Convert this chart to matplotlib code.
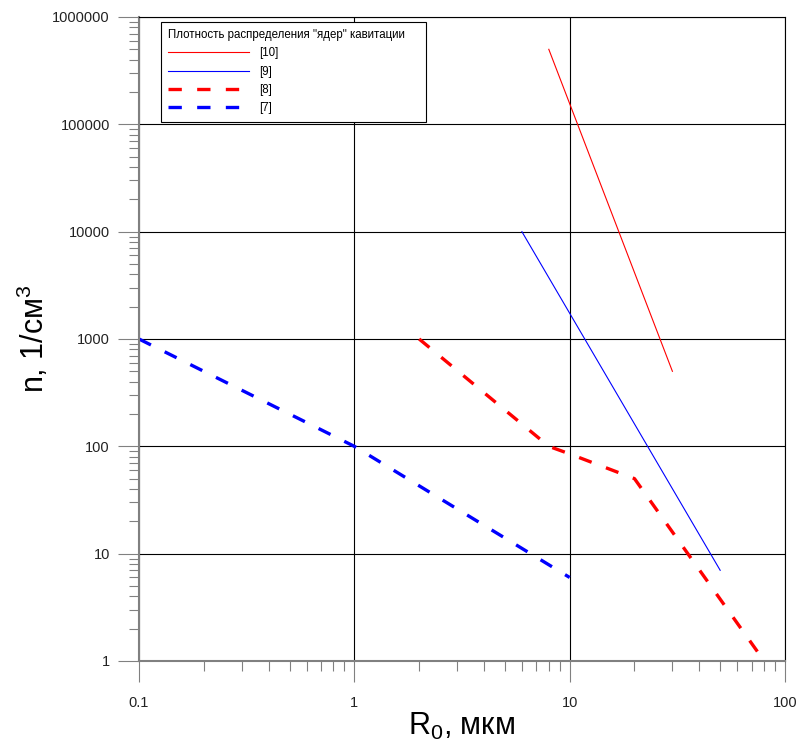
import matplotlib
matplotlib.use("Agg")
import matplotlib.pyplot as plt
from matplotlib.ticker import FixedLocator, FixedFormatter, LogLocator, NullFormatter

plt.rcParams['font.family'] = ['Liberation Sans', 'DejaVu Sans']
plt.rcParams['mathtext.fontset'] = 'custom'
plt.rcParams['mathtext.rm'] = 'Liberation Sans'
plt.rcParams['mathtext.it'] = 'Liberation Sans'

# data (log-log)
r10_x = [8, 30]
r10_y = [500000, 500]

r9_x = [6, 50]
r9_y = [10000, 7]

r8_x = [2, 8, 10, 20, 80]
r8_y = [1000, 100, 85, 50, 1]

r7_x = [0.1, 1, 10]
r7_y = [1000, 100, 6]

x_ticks = [0.1, 1, 10, 100]
x_labels = ["0.1", "1", "10", "100"]
y_ticks = [1, 10, 100, 1000, 10000, 100000, 1000000]
y_labels = ["1", "10", "100", "1000", "10000", "100000", "1000000"]

fig = plt.figure(figsize=(7.99, 7.44), dpi=100)
ax = fig.add_axes([139 / 799, 1 - 661 / 744, 646 / 799, 644 / 744])

ax.plot(r10_x, r10_y, color="red", lw=0.8, label="[10]")
ax.plot(r9_x, r9_y, color="blue", lw=0.8, label="[9]")
ax.plot(r8_x, r8_y, color="red", lw=2.4, linestyle=(0, (4.0, 4.6)), label="[8]")
ax.plot(r7_x, r7_y, color="blue", lw=2.4, linestyle=(0, (4.0, 4.6)), label="[7]")

ax.set_xscale("log")
ax.set_yscale("log")
ax.set_xlim(0.1, 100)
ax.set_ylim(1, 1000000)

ax.xaxis.set_major_locator(FixedLocator(x_ticks))
ax.xaxis.set_major_formatter(FixedFormatter(x_labels))
ax.yaxis.set_major_locator(FixedLocator(y_ticks))
ax.yaxis.set_major_formatter(FixedFormatter(y_labels))
ax.xaxis.set_minor_locator(LogLocator(base=10, subs=range(2, 10), numticks=20))
ax.yaxis.set_minor_locator(LogLocator(base=10, subs=range(2, 10), numticks=20))
ax.xaxis.set_minor_formatter(NullFormatter())
ax.yaxis.set_minor_formatter(NullFormatter())

ax.tick_params(which="major", direction="out", length=15, width=0.8, color="#808080",
               labelsize=10.5, labelcolor="#222222")
ax.tick_params(axis="x", which="major", pad=10)
ax.tick_params(axis="y", which="major", pad=6)
ax.tick_params(which="minor", direction="out", length=7.5, width=0.8, color="#808080")

ax.grid(True, which="major", color="black", lw=0.8)
for side in ["left", "bottom"]:
    ax.spines[side].set_color("#808080")
    ax.spines[side].set_linewidth(1.5)
for side in ["top", "right"]:
    ax.spines[side].set_color("black")
    ax.spines[side].set_linewidth(0.8)

ax.set_xlabel(r"R$_0$, мкм", fontsize=22, labelpad=1)
ax.set_ylabel(r"n, 1/см$^3$", fontsize=22, labelpad=1)

leg = ax.legend(loc="upper left", bbox_to_anchor=(0.034, 0.993, 0.41, 0.0), mode="expand",
                title='Плотность распределения "ядер" кавитации', title_fontsize=8.3,
                fontsize=8.3, alignment="left", fancybox=False, edgecolor="black",
                framealpha=1, handlelength=7.0, handletextpad=0.9, labelspacing=0.55,
                borderpad=0.65, borderaxespad=0)
leg.get_frame().set_linewidth(0.8)

fig.savefig("out.png", dpi=100)
